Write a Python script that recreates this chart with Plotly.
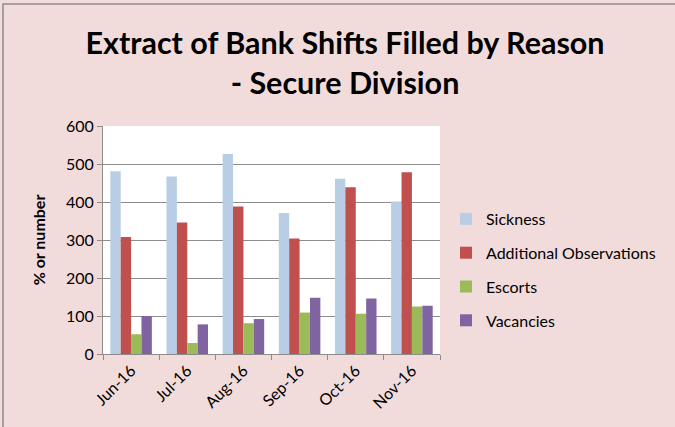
import plotly.graph_objects as go

months = ["Jun-16", "Jul-16", "Aug-16", "Sep-16", "Oct-16", "Nov-16"]
sickness = [481, 467, 526, 371, 461, 401]
additional_obs = [308, 346, 388, 304, 439, 478]
escorts = [52, 29, 81, 109, 106, 125]
vacancies = [100, 78, 92, 148, 146, 127]

series = [
    ("Sickness", sickness, "#B9CDE5"),
    ("Additional Observations", additional_obs, "#C0504D"),
    ("Escorts", escorts, "#9BBB59"),
    ("Vacancies", vacancies, "#8064A2"),
]

fig = go.Figure()
for name, vals, col in series:
    fig.add_trace(go.Bar(x=months, y=vals, name=name, legendgroup=name,
                         marker=dict(color=col, line=dict(width=0))))

W, H = 675, 427
L, R, T, B = 103, 235, 126, 73
pw = W - L - R
ph = H - T - B
FONT = "Lato"

fig.update_layout(
    width=W, height=H,
    margin=dict(l=L, r=R, t=T, b=B, autoexpand=False),
    paper_bgcolor="#F2DCDB",
    plot_bgcolor="white",
    barmode="group",
    bargap=0.26,
    bargroupgap=0,
    font=dict(family=FONT, color="#000000"),
    title=dict(
        text="<b>Extract of Bank Shifts Filled by Reason<br>- Secure Division</b>",
        x=345 / W, xanchor="center", y=(427 - 54) / 427, yanchor="middle",
        font=dict(size=30.5, family=FONT, color="#000000"),
    ),
    legend=dict(
        x=(446 - L) / pw, y=(354 - 202) / ph, xanchor="left", yanchor="top",
        font=dict(size=16), tracegroupgap=10, itemwidth=30,
        bgcolor="rgba(0,0,0,0)",
    ),
    showlegend=True,
    yaxis=dict(
        range=[0, 600], dtick=100, automargin=False,
        showgrid=True, gridcolor="#8C8C8C", gridwidth=1,
        showline=True, linecolor="#8C8C8C",
        ticks="outside", ticklen=5, tickcolor="#8C8C8C",
        tickfont=dict(size=16),
        title=dict(text="<b>% or number</b>", font=dict(size=16), standoff=16),
        zeroline=False,
    ),
    xaxis=dict(
        automargin=False,
        showline=True, linecolor="#8C8C8C",
        ticks="outside", ticklen=5, tickcolor="#8C8C8C", tickson="boundaries",
        tickangle=-45, tickfont=dict(size=16),
    ),
)

# outer chart border (top and left gray edges)
fig.add_shape(type="rect", xref="paper", yref="paper",
              x0=(3 - L) / pw, x1=(W + 2 - L) / pw,
              y0=(-3 - B) / ph, y1=(H - 4 - B) / ph,
              line=dict(color="#8C8C8C", width=1.5), fillcolor="rgba(0,0,0,0)", layer="above")

fig.write_html("out.html", config={"displayModeBar": False},
               post_script="document.body.style.margin='0';document.body.style.padding='0';")
